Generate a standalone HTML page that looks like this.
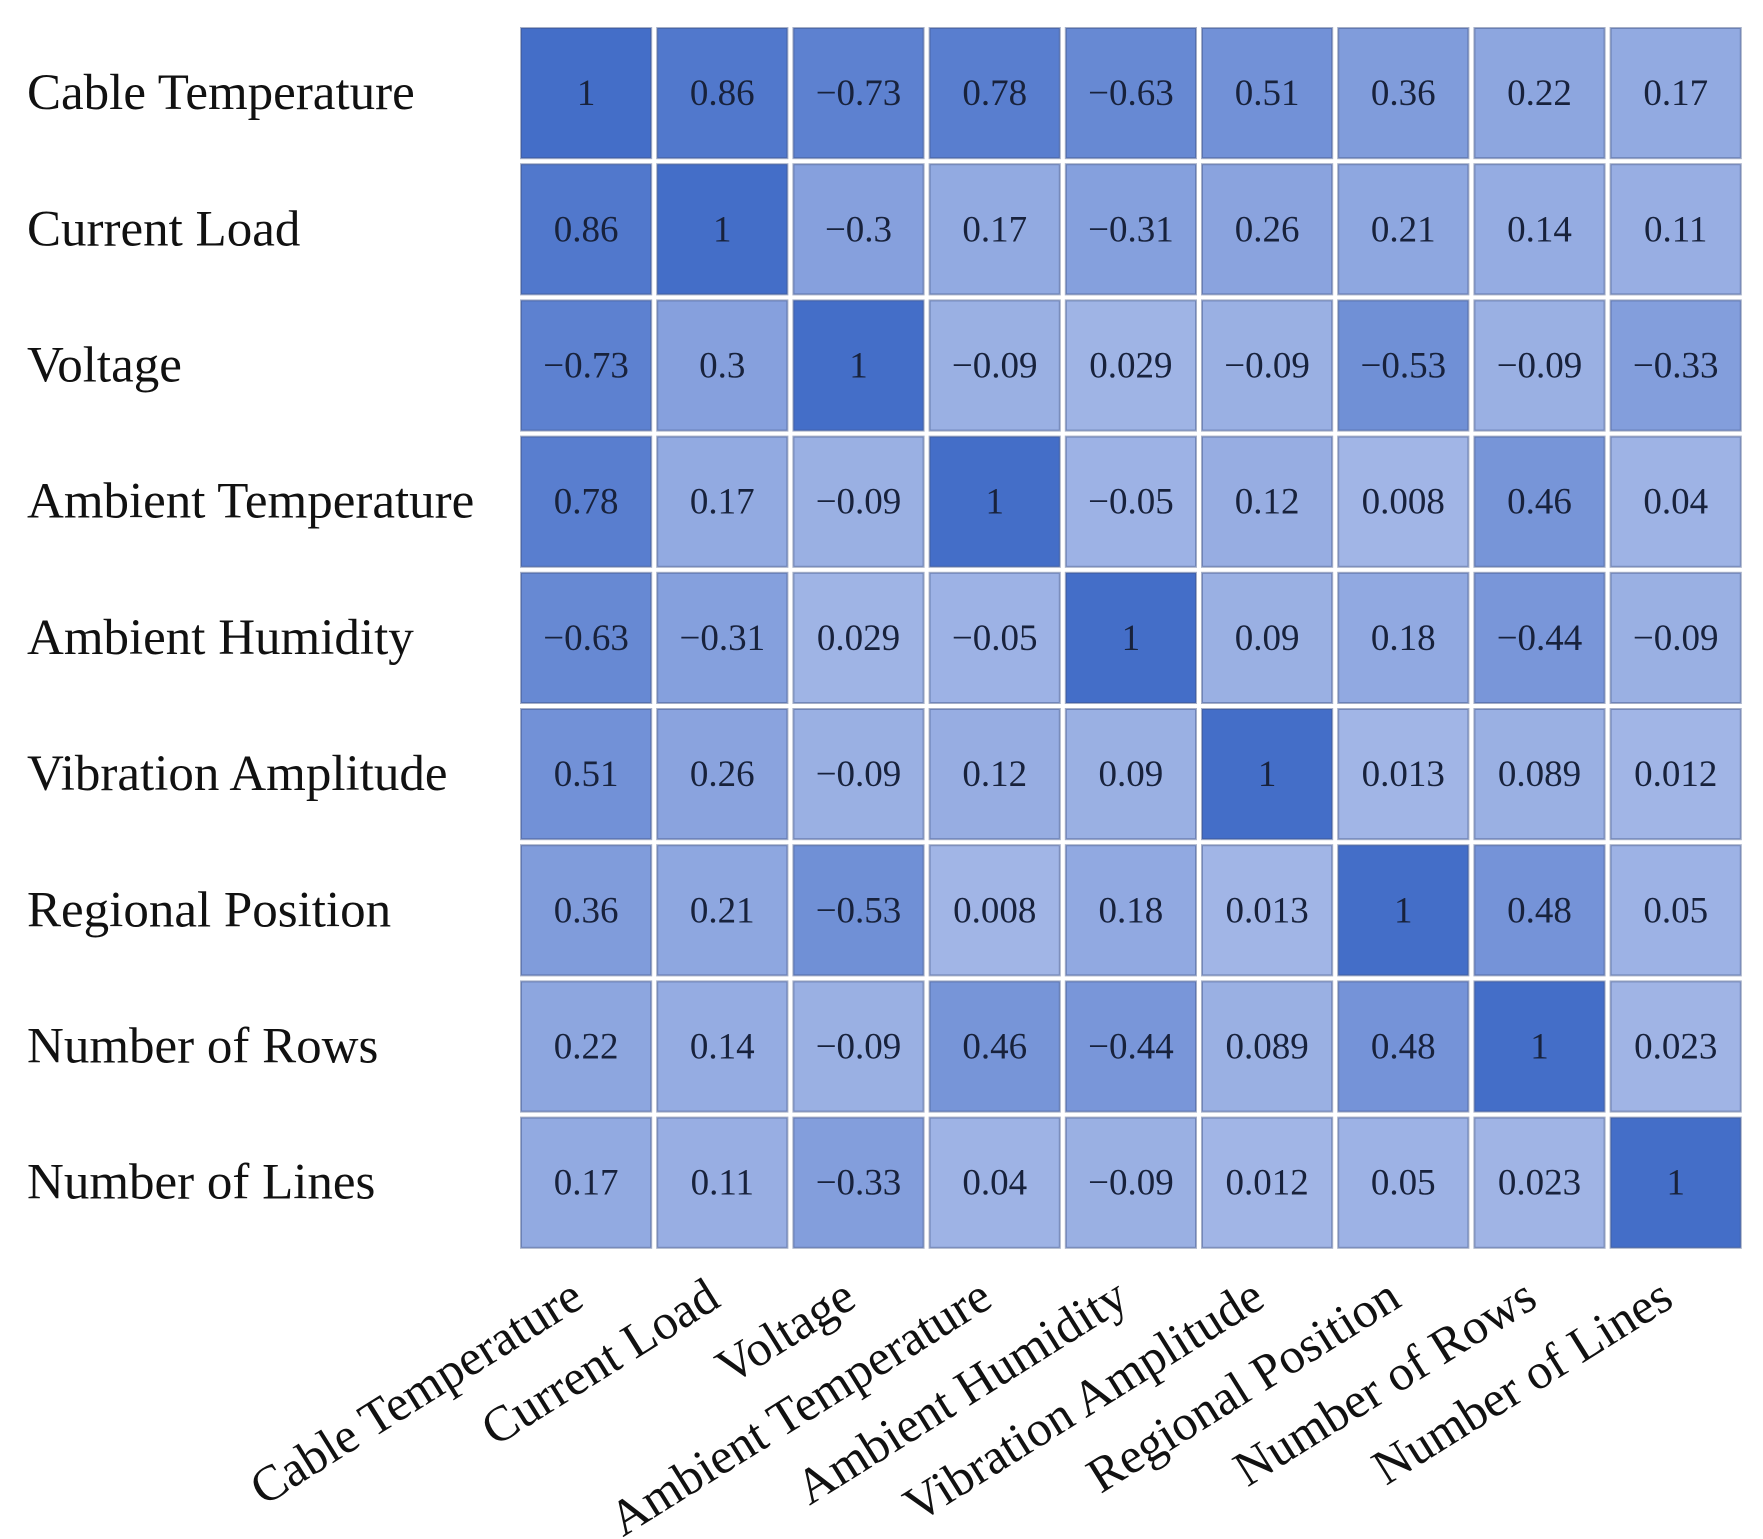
<!DOCTYPE html>
<html><head><meta charset="utf-8"><style>
html,body{margin:0;padding:0;background:#fff;}
svg{display:block;font-family:"Liberation Serif",serif;}
</style></head><body>
<svg id="chart" width="1763" height="1539" viewBox="0 0 1763 1539" xmlns="http://www.w3.org/2000/svg"></svg>
<script>
const labels = ["Cable Temperature","Current Load","Voltage","Ambient Temperature","Ambient Humidity","Vibration Amplitude","Regional Position","Number of Rows","Number of Lines"];
const row0 = ["1","0.86","-0.73","0.78","-0.63","0.51","0.36","0.22","0.17"];
const row1 = ["0.86","1","-0.3","0.17","-0.31","0.26","0.21","0.14","0.11"];
const row2 = ["-0.73","0.3","1","-0.09","0.029","-0.09","-0.53","-0.09","-0.33"];
const row3 = ["0.78","0.17","-0.09","1","-0.05","0.12","0.008","0.46","0.04"];
const row4 = ["-0.63","-0.31","0.029","-0.05","1","0.09","0.18","-0.44","-0.09"];
const row5 = ["0.51","0.26","-0.09","0.12","0.09","1","0.013","0.089","0.012"];
const row6 = ["0.36","0.21","-0.53","0.008","0.18","0.013","1","0.48","0.05"];
const row7 = ["0.22","0.14","-0.09","0.46","-0.44","0.089","0.48","1","0.023"];
const row8 = ["0.17","0.11","-0.33","0.04","-0.09","0.012","0.05","0.023","1"];
const matrix = [row0,row1,row2,row3,row4,row5,row6,row7,row8];

const svg = document.getElementById('chart');
const NS = "http://www.w3.org/2000/svg";
const gx0 = 518, gy0 = 25, pitch = 136.2, gap = 6;
function xPos(i){ return gx0 + i*pitch; }
function yPos(j){ return gy0 + j*pitch; }
function color(v){
  const t = Math.min(1, Math.abs(v));
  const a=[162,182,230], b=[68,110,200];
  const c=a.map((x,k)=>Math.round(x+(b[k]-x)*t));
  return `rgb(${c[0]},${c[1]},${c[2]})`;
}
function mk(tag, attrs){ const e=document.createElementNS(NS,tag); for(const k in attrs) e.setAttribute(k,attrs[k]); return e; }

matrix.forEach((row,j)=>{
  row.forEach((s,i)=>{
    const v=parseFloat(s);
    const r=mk('rect',{x:xPos(i)+gap/2,y:yPos(j)+gap/2,width:pitch-gap,height:pitch-gap,fill:color(v),stroke:'rgba(60,80,130,0.45)','stroke-width':2});
    
    
    svg.appendChild(r);
    const t=mk('text',{x:xPos(i)+pitch/2,y:yPos(j)+pitch/2+12,'text-anchor':'middle','font-size':37,fill:'#18223c'});
    t.textContent=s.replace('-','\u2212');
    
    
    svg.appendChild(t);
  });
});
labels.forEach((l,j)=>{
  const t=mk('text',{x:27,y:yPos(j)+pitch/2+16,'font-size':51,fill:'#111'});
  t.textContent=l;
  
  
  svg.appendChild(t);
});
labels.forEach((l,i)=>{
  const cx=xPos(i)+pitch/2, cy=1305;
  const t=mk('text',{x:cx,y:cy,'text-anchor':'end','font-size':50,fill:'#111',transform:`rotate(-32 ${cx} ${cy})`});
  t.textContent=l;
  
  
  svg.appendChild(t);
});
</script>
</body></html>
